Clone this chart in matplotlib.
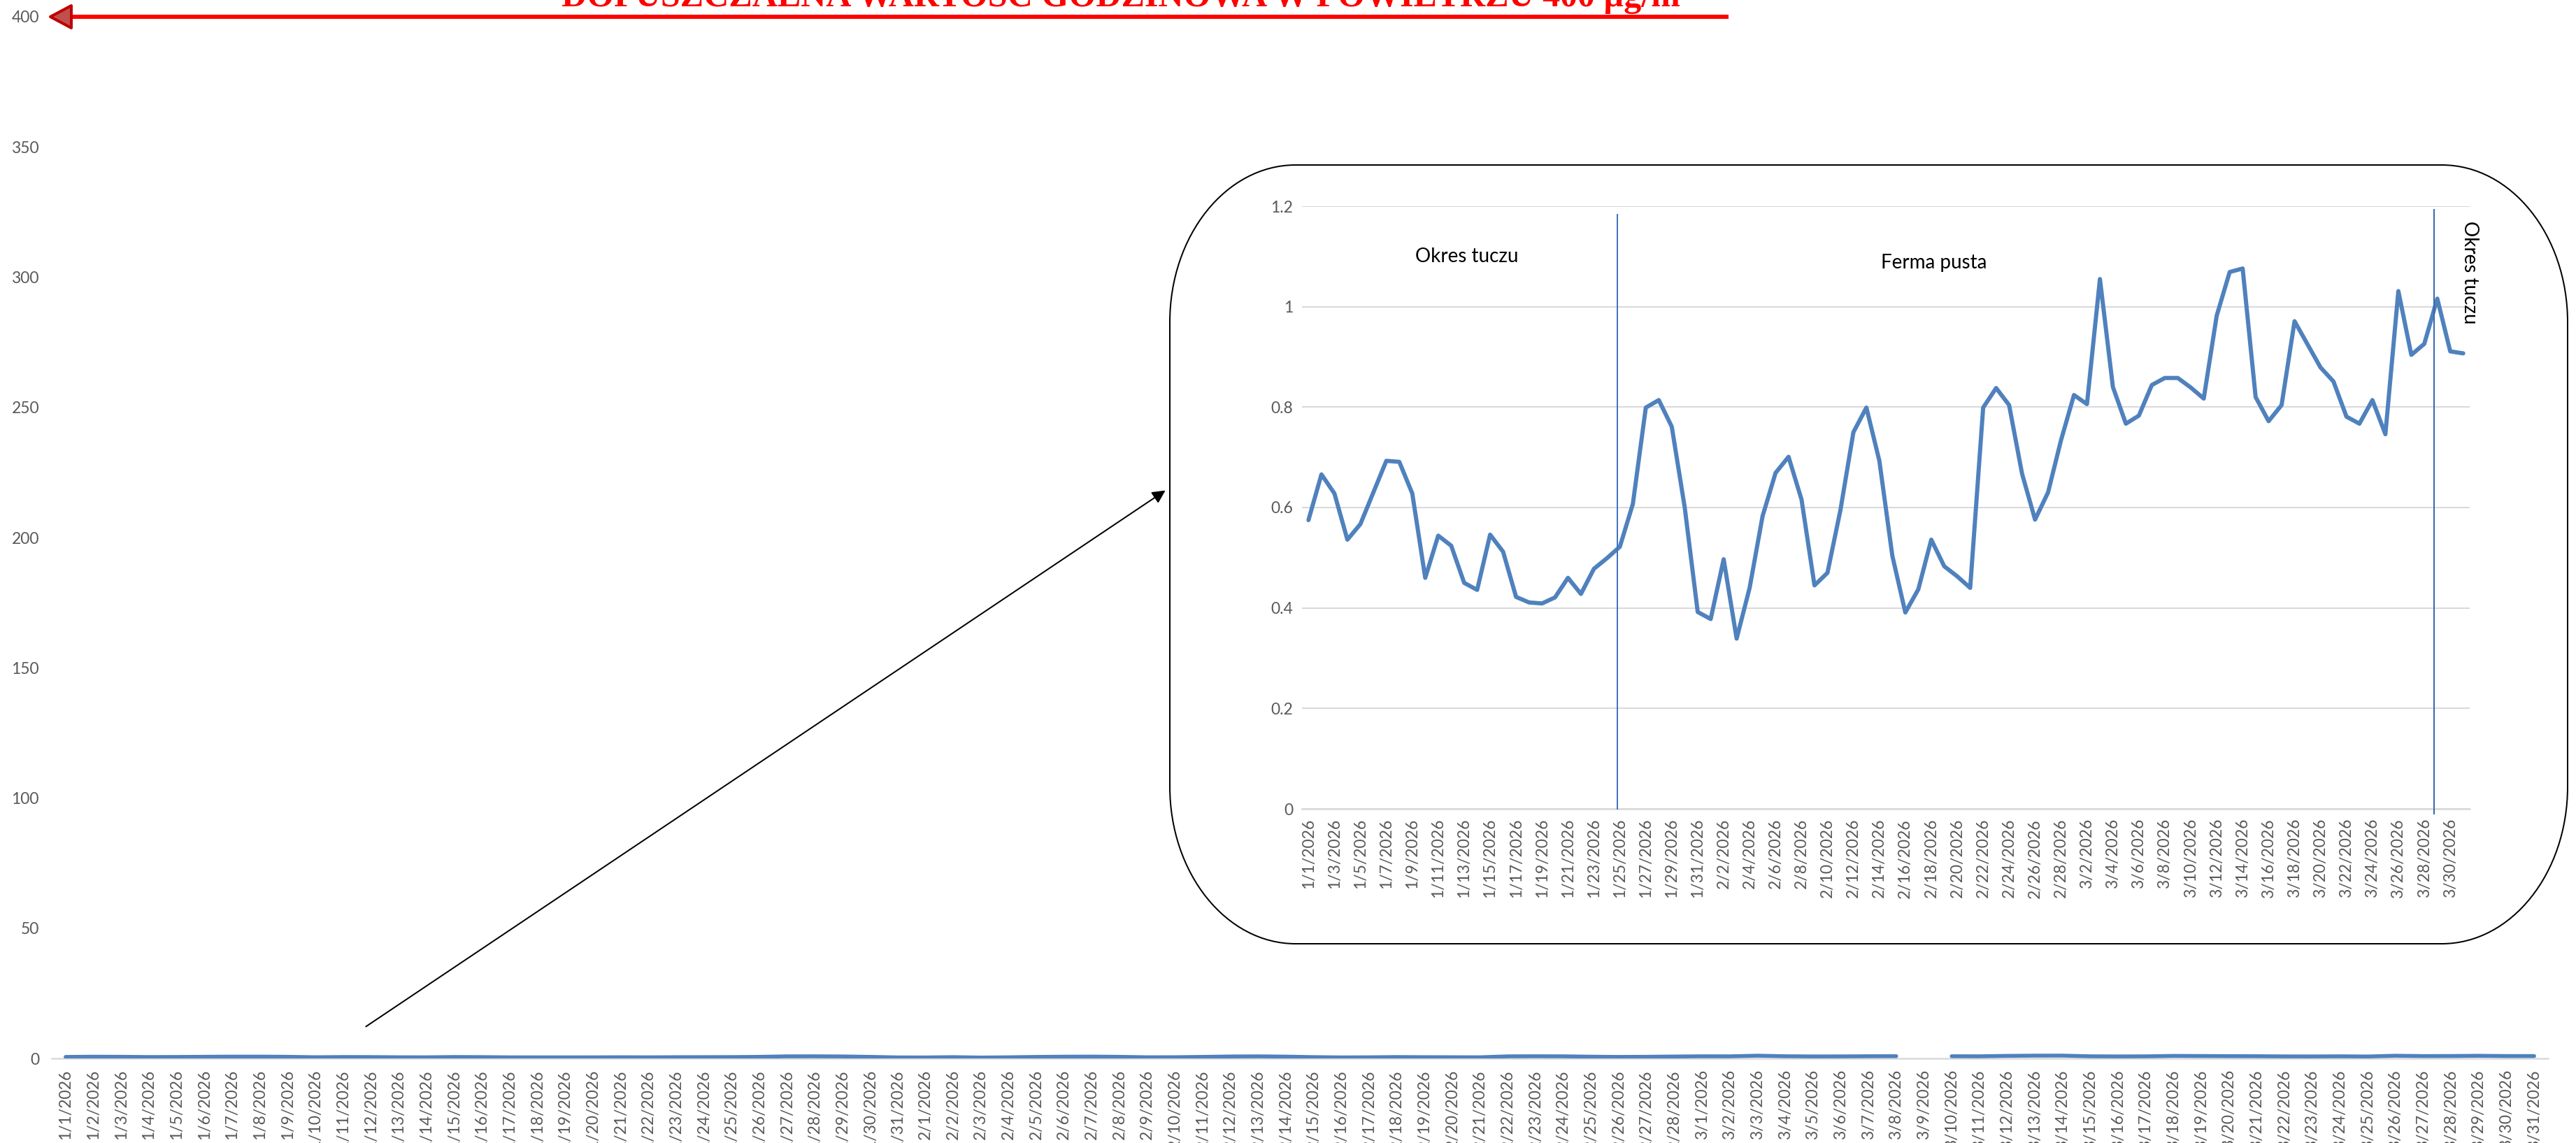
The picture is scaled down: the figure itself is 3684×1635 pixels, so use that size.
import matplotlib
matplotlib.use("Agg")
import matplotlib.pyplot as plt
import numpy as np
import pandas as pd
from matplotlib.patches import Polygon, FancyArrowPatch, PathPatch
from matplotlib.path import Path
from matplotlib.lines import Line2D

# ---------------- data ----------------
dates = pd.date_range("2026-01-01", "2026-03-31", freq="D")
date_labels = [f"{d.month}/{d.day}/{d.year}" for d in dates]

# daily concentration (µg/m3)
inset_values = [
    0.575, 0.666, 0.628, 0.536, 0.567, 0.630, 0.693, 0.691, 0.628, 0.460,
    0.544, 0.524, 0.450, 0.436, 0.546, 0.512, 0.422, 0.411, 0.409, 0.421,
    0.460, 0.428, 0.478, 0.499, 0.522, 0.607, 0.799, 0.814, 0.761, 0.600,
    0.392, 0.378, 0.497, 0.339, 0.440, 0.583, 0.669, 0.701, 0.616, 0.445,
    0.470, 0.595, 0.750, 0.799, 0.693, 0.504, 0.391, 0.437, 0.536, 0.483,
    0.463, 0.440, 0.799, 0.838, 0.804, 0.667, 0.576, 0.630, 0.734, 0.824,
    0.806, 1.055, 0.840, 0.767, 0.783, 0.844, 0.858, 0.858, 0.839, 0.817,
    0.982, 1.069, 1.076, 0.820, 0.772, 0.804, 0.971, 0.925, 0.879, 0.851,
    0.781, 0.767, 0.814, 0.746, 1.031, 0.904, 0.926, 1.016, 0.911, 0.907,
]
# main chart: same series, with one day missing
main_missing = ["3/9/2026"]

main_yticks = [0, 50, 100, 150, 200, 250, 300, 350, 400]
inset_yticks = [0, 0.2, 0.4, 0.6, 0.8, 1.0, 1.2]
inset_ytick_labels = ["0", "0.2", "0.4", "0.6", "0.8", "1", "1.2"]

limit_value = 400
title_text = "DOPUSZCZALNA WARTOŚĆ GODZINOWA W POWIETRZU 400 µg/m³"
period_labels = ["Okres tuczu", "Ferma pusta", "Okres tuczu"]
period_bounds = [23.8, 86.75]

# ---------------- figure ----------------
W, H = 3684, 1635
DPI = 100
plt.rcParams["font.family"] = ["Lato", "DejaVu Sans"]
fig = plt.figure(figsize=(W / DPI, H / DPI), dpi=DPI)
fig.patch.set_facecolor("white")


def fx(x):
    return x / W


def fy(y):
    return 1 - y / H


def pt(px):
    return px * 72 / DPI


BLUE = "#4F81BD"
GRID = "#D9D9D9"
TICK = "#595959"
TICK_FS = 16.5

n = len(date_labels)
xs = np.arange(n)

# ---- main axes ----
ax = fig.add_axes([fx(74), fy(1514), fx(3644) - fx(74), fy(24) - fy(1514)])
ax.set_zorder(0)
main_vals = np.array(inset_values, dtype=float)
for lab in main_missing:
    main_vals[date_labels.index(lab)] = np.nan
ax.plot(xs, main_vals, color=BLUE, lw=pt(5.5), solid_capstyle="round",
        solid_joinstyle="round", zorder=3)
ax.set_xlim(-0.5, n - 0.5)
ax.set_ylim(0, 400)
ax.set_yticks(main_yticks)
ax.set_yticklabels([str(v) for v in main_yticks])
ax.set_xticks(xs)
ax.set_xticklabels(date_labels, rotation=90, ha="center", va="top")
for s in ["top", "right", "left"]:
    ax.spines[s].set_visible(False)
ax.spines["bottom"].set_color(GRID)
ax.spines["bottom"].set_linewidth(pt(2.5))
ax.tick_params(axis="both", length=0, colors=TICK, labelsize=TICK_FS)
ax.tick_params(axis="y", pad=pt(18))
ax.tick_params(axis="x", pad=pt(16))
ax.set_facecolor("none")

# ---- title (partly cut by the top edge, as in the original) ----
fig.text(fx(1610), fy(9), title_text, ha="center", va="baseline",
         color="#FF0000", fontsize=36, fontweight="bold",
         family=["Liberation Serif", "DejaVu Serif"])

# ---- red limit arrow ----
fig.add_artist(Line2D([fx(100), fx(2472)], [fy(24), fy(24)],
                      transform=fig.transFigure, color="#FF0000", lw=pt(6),
                      solid_capstyle="butt", zorder=5))
tri = Polygon([[fx(72), fy(24)], [fx(102), fy(8)], [fx(102), fy(40)]],
              closed=True, transform=fig.transFigure, facecolor="#C0504D",
              edgecolor="#C00000", lw=pt(4), joinstyle="round", zorder=6)
fig.add_artist(tri)

# ---- rounded rectangle frame ----
x0, y0, x1, y1 = 1673, 236, 3672, 1350
rx, ry = 180, 225
k = 0.5523
pts = [
    (x0 + rx, y0),
    (x1 - rx, y0),
    (x1 - rx + k * rx, y0), (x1, y0 + ry - k * ry), (x1, y0 + ry),
    (x1, y1 - ry),
    (x1, y1 - ry + k * ry), (x1 - rx + k * rx, y1), (x1 - rx, y1),
    (x0 + rx, y1),
    (x0 + rx - k * rx, y1), (x0, y1 - ry + k * ry), (x0, y1 - ry),
    (x0, y0 + ry),
    (x0, y0 + ry - k * ry), (x0 + rx - k * rx, y0), (x0 + rx, y0),
    (x0 + rx, y0),
]
codes = [Path.MOVETO, Path.LINETO,
         Path.CURVE4, Path.CURVE4, Path.CURVE4,
         Path.LINETO,
         Path.CURVE4, Path.CURVE4, Path.CURVE4,
         Path.LINETO,
         Path.CURVE4, Path.CURVE4, Path.CURVE4,
         Path.LINETO,
         Path.CURVE4, Path.CURVE4, Path.CURVE4,
         Path.CLOSEPOLY]
path = Path([(fx(a), fy(b)) for a, b in pts], codes)
frame = PathPatch(path, transform=fig.transFigure, facecolor="white",
                  edgecolor="#000000", lw=pt(2), zorder=1)
fig.add_artist(frame)

# ---- black pointer arrow ----
arr = FancyArrowPatch((fx(521), fy(1470)), (fx(1669), fy(700)),
                      transform=fig.transFigure, arrowstyle="-|>",
                      mutation_scale=28, color="black", lw=pt(2), zorder=2)
fig.add_artist(arr)

# ---- inset axes ----
ia = fig.add_axes([fx(1862), fy(1157), fx(3532) - fx(1862), fy(295) - fy(1157)])
ia.set_zorder(3)
ia.set_facecolor("none")
inset_arr = np.array(inset_values, dtype=float)
ia.plot(xs, inset_arr, color=BLUE, lw=pt(6), solid_joinstyle="round",
        solid_capstyle="round", zorder=3)
ia.set_xlim(-0.5, n - 0.5)
ia.set_ylim(0, 1.2)
ia.set_yticks(inset_yticks)
ia.set_yticklabels(inset_ytick_labels)
ia.set_xticks(xs[::2])
ia.set_xticklabels(date_labels[::2], rotation=90, ha="center", va="top")
ia.grid(axis="y", color=GRID, lw=pt(2))
ia.set_axisbelow(True)
for s in ["top", "right", "left"]:
    ia.spines[s].set_visible(False)
ia.spines["bottom"].set_color(GRID)
ia.spines["bottom"].set_linewidth(pt(2.5))
ia.tick_params(axis="both", length=0, colors=TICK, labelsize=TICK_FS)
ia.tick_params(axis="y", pad=pt(13))
ia.tick_params(axis="x", pad=pt(14))

ia.plot([period_bounds[0]] * 2, [0, 1.183], color="#4472C4", lw=pt(2),
        clip_on=False, zorder=4)
ia.plot([period_bounds[1]] * 2, [-0.01, 1.193], color="#3A66AF", lw=pt(2),
        clip_on=False, zorder=4)

ia.text(12.2, 1.100, period_labels[0], ha="center", va="center",
        fontsize=20, color="black")
ia.text(48.2, 1.087, period_labels[1], ha="center", va="center",
        fontsize=20, color="black")
ia.text(89.5, 1.068, period_labels[2], ha="center", va="center",
        fontsize=20, color="black", rotation=270, clip_on=False)

fig.savefig("out.png", dpi=DPI)
